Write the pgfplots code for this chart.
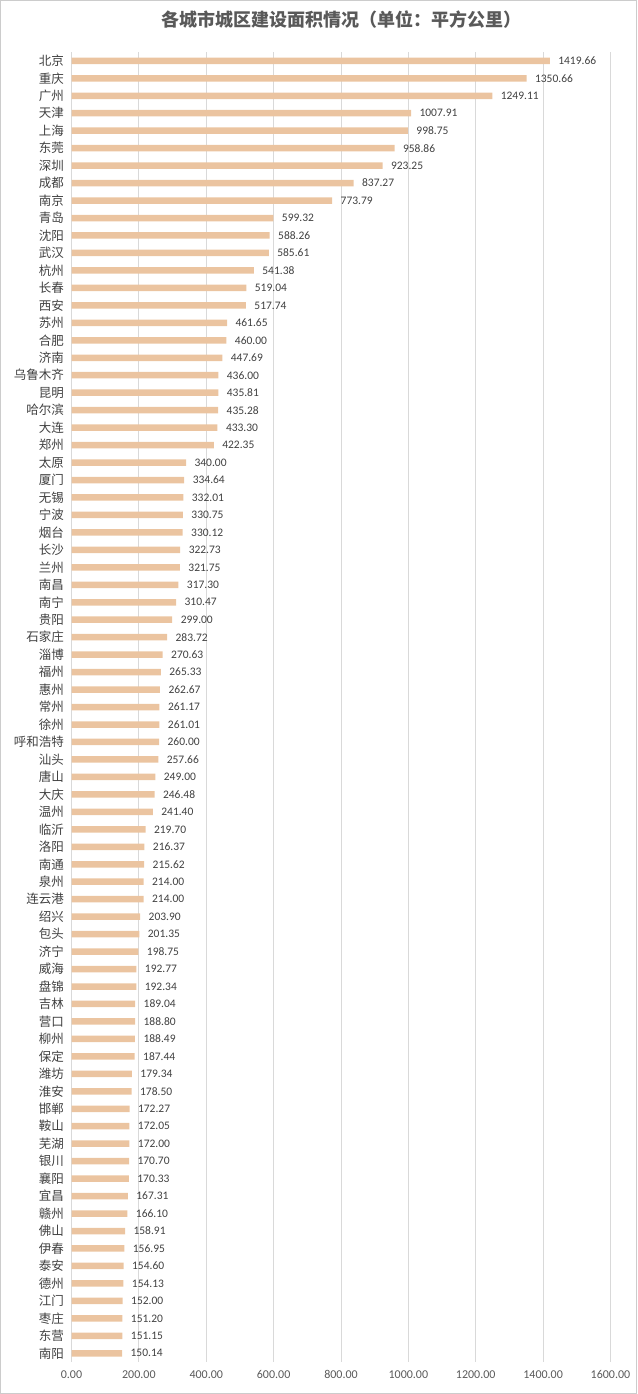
\documentclass[border=0pt]{standalone}
\usepackage{pgfplots}
\usepackage{pgfplotstable}
\pgfplotsset{compat=1.18}
\usepackage{fontspec}
\setmainfont{Carlito}
\newfontfamily\cjk{Noto Sans CJK SC}
\definecolor{barc}{RGB}{235,196,160}
\definecolor{txt}{RGB}{64,64,64}
\definecolor{tick}{RGB}{89,89,89}
\pgfplotstableread[col sep=comma]{
idx,val,name
0,1419.66,北京
1,1350.66,重庆
2,1249.11,广州
3,1007.91,天津
4,998.75,上海
5,958.86,东莞
6,923.25,深圳
7,837.27,成都
8,773.79,南京
9,599.32,青岛
10,588.26,沈阳
11,585.61,武汉
12,541.38,杭州
13,519.04,长春
14,517.74,西安
15,461.65,苏州
16,460.00,合肥
17,447.69,济南
18,436.00,乌鲁木齐
19,435.81,昆明
20,435.28,哈尔滨
21,433.30,大连
22,422.35,郑州
23,340.00,太原
24,334.64,厦门
25,332.01,无锡
26,330.75,宁波
27,330.12,烟台
28,322.73,长沙
29,321.75,兰州
30,317.30,南昌
31,310.47,南宁
32,299.00,贵阳
33,283.72,石家庄
34,270.63,淄博
35,265.33,福州
36,262.67,惠州
37,261.17,常州
38,261.01,徐州
39,260.00,呼和浩特
40,257.66,汕头
41,249.00,唐山
42,246.48,大庆
43,241.40,温州
44,219.70,临沂
45,216.37,洛阳
46,215.62,南通
47,214.00,泉州
48,214.00,连云港
49,203.90,绍兴
50,201.35,包头
51,198.75,济宁
52,192.77,威海
53,192.34,盘锦
54,189.04,吉林
55,188.80,营口
56,188.49,柳州
57,187.44,保定
58,179.34,潍坊
59,178.50,淮安
60,172.27,邯郸
61,172.05,鞍山
62,172.00,芜湖
63,170.70,银川
64,170.33,襄阳
65,167.31,宜昌
66,166.10,赣州
67,158.91,佛山
68,156.95,伊春
69,154.60,泰安
70,154.13,德州
71,152.00,江门
72,151.20,枣庄
73,151.15,东营
74,150.14,南阳
}\data
\begin{document}
\begin{tikzpicture}
\begin{axis}[
  at={(71.5pt,32pt)}, anchor=south west,
  scale only axis, width=539pt, height=1310pt,
  xmin=0, xmax=1600, ymin=-0.5, ymax=74.5,
  y dir=reverse,
  axis line style={draw=none},
  xbar, bar width=6.5pt,
  xtick={0,200,...,1600},
  ytick={0,...,74},
  yticklabels from table={\data}{name},
  major tick length=0pt,
  xmajorgrids, major grid style={color=black!15, line width=0.8pt},
  /pgf/number format/assume math mode=true,
  xticklabel style={font=\fontsize{12}{14}\selectfont, text=tick, yshift=-5pt,
    /pgf/number format/.cd, fixed, fixed zerofill, precision=2, 1000 sep={}},
  yticklabel style={font=\cjk\fontsize{12.5}{14}\selectfont, text=txt, xshift=-4pt},
  title={各城市城区建设面积情况（单位：平方公里）},
  title style={at={(0.5,1)}, anchor=center, yshift=27pt, font=\cjk\bfseries\fontsize{18}{20}\selectfont, text=tick},
  nodes near coords={\pgfmathprintnumber[fixed,fixed zerofill,precision=2,1000 sep={}]{\pgfplotspointmeta}},
  nodes near coords style={font=\fontsize{11.5}{13}\selectfont, text=txt, xshift=5pt, anchor=west},
  clip=false,
]
\addplot[fill=barc, draw=none, point meta=explicit] table[x=val, y=idx, meta=val] {\data};
\end{axis}
\draw[black!20, line width=0.8pt] (0.4pt,0.4pt) rectangle (636.6pt,1393.6pt);
\path[use as bounding box] (0,0) rectangle (637pt,1394pt);
\end{tikzpicture}
\end{document}
